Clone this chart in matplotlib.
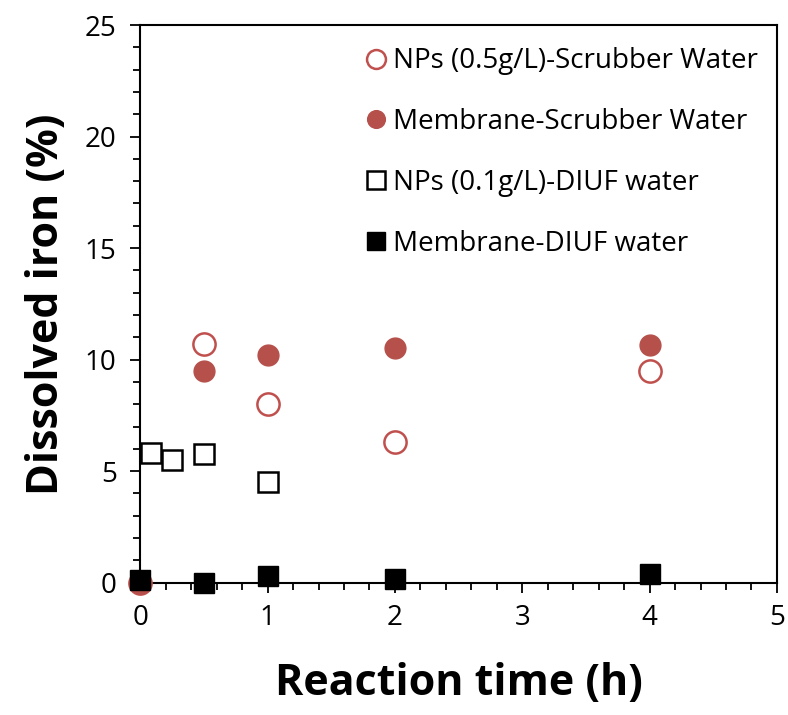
import numpy as np
import matplotlib
matplotlib.use("Agg")
import matplotlib.pyplot as plt
from matplotlib.ticker import MultipleLocator

plt.rcParams["font.family"] = ["Open Sans", "DejaVu Sans"]

# Data (reaction time in h, dissolved iron in %)
t_np_scrub = [0, 0.5, 1, 2, 4]
fe_np_scrub = [0.0, 10.7, 8.0, 6.3, 9.5]

t_mem_scrub = [0, 0.5, 1, 2, 4]
fe_mem_scrub = [0.0, 9.5, 10.2, 10.5, 10.65]

t_np_diuf = [0.083, 0.25, 0.5, 1]
fe_np_diuf = [5.8, 5.5, 5.75, 4.5]

t_mem_diuf = [0, 0.5, 1, 2, 4]
fe_mem_diuf = [0.1, 0.0, 0.3, 0.15, 0.4]

red = "#C0504D"
red_fill = "#B5504B"

fig = plt.figure(figsize=(7.88, 7.15), dpi=100)
ax = fig.add_axes([0.178, 0.185, 0.808, 0.78])

ax.plot(t_np_scrub, fe_np_scrub, "o", ls="none", ms=16, mfc="white", mec=red, mew=1.8,
        label="NPs (0.5g/L)-Scrubber Water", clip_on=False, zorder=3)
ax.plot(t_mem_scrub, fe_mem_scrub, "o", ls="none", ms=15, mfc=red_fill, mec=red_fill,
        label="Membrane-Scrubber Water", clip_on=False, zorder=3)
ax.plot(t_np_diuf, fe_np_diuf, "s", ls="none", ms=15, mfc="white", mec="black", mew=1.8,
        label="NPs (0.1g/L)-DIUF water", clip_on=False, zorder=4)
ax.plot(t_mem_diuf, fe_mem_diuf, "s", ls="none", ms=15, mfc="black", mec="black",
        label="Membrane-DIUF water", clip_on=False, zorder=5)

ax.set_xlim(0, 5)
ax.set_ylim(0, 25)
ax.xaxis.set_major_locator(MultipleLocator(1))
ax.xaxis.set_minor_locator(MultipleLocator(0.2))
ax.yaxis.set_major_locator(MultipleLocator(5))
ax.yaxis.set_minor_locator(MultipleLocator(1))
ax.tick_params(axis="both", which="major", direction="out", length=7, width=1.3,
               labelsize=20, pad=8)
ax.tick_params(axis="y", which="major", pad=10)
ax.tick_params(axis="both", which="minor", direction="out", length=5, width=1.3)
ax.tick_params(top=False, right=False, which="both")
for s in ax.spines.values():
    s.set_linewidth(1.5)

ax.set_xlabel("Reaction time (h)", fontsize=31, fontweight="bold", labelpad=22)
ax.set_ylabel("Dissolved iron (%)", fontsize=31, fontweight="bold", labelpad=12)

ax.legend(loc="upper right", bbox_to_anchor=(1.005, 1.0), frameon=False, fontsize=20,
          labelspacing=1.18, handletextpad=0.0, handlelength=1.2, borderpad=0.3,
          markerscale=0.85)

fig.savefig("out.png", dpi=100)
